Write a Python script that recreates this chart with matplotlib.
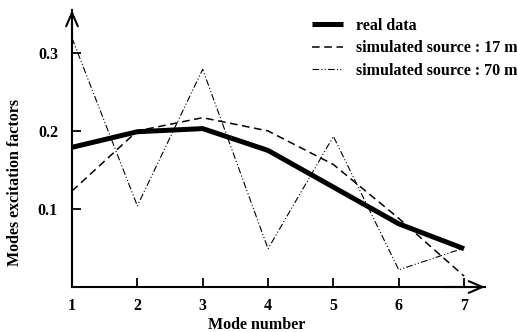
import matplotlib
matplotlib.use("Agg")
import matplotlib.pyplot as plt

modes = [1, 2, 3, 4, 5, 6, 7]
real_data = [0.179, 0.199, 0.203, 0.175, 0.128, 0.081, 0.049]
sim_17m = [0.123, 0.200, 0.217, 0.200, 0.157, 0.088, 0.014]
sim_70m = [0.319, 0.104, 0.279, 0.049, 0.193, 0.022, 0.050]
xticks = [1, 2, 3, 4, 5, 6, 7]
yticks = [0.1, 0.2, 0.3]
ytick_labels = ["0.1", "0.2", "0.3"]

plt.rcParams['font.family'] = ['Liberation Serif', 'DejaVu Serif']
plt.rcParams['font.weight'] = 'bold'

W, H = 517, 332
fig = plt.figure(figsize=(W / 100, H / 100), dpi=100)
x0, x1, y0, y1 = 72, 485, 287, 10
ax = fig.add_axes([x0 / W, (H - y0) / H, (x1 - x0) / W, (y0 - y1) / H])

ax.plot(modes, real_data, color='black', lw=3.6, solid_capstyle='butt', label='real data')
ax.plot(modes, sim_17m, color='black', lw=1.1, dashes=(5, 3), label='simulated source : 17 m')
ax.plot(modes, sim_70m, color='black', lw=0.8, dashes=(6, 2, 1, 2, 1, 2), label='simulated source : 70 m')

ax.set_xlim(1, 7.32)
ax.set_ylim(0, 0.355)
ax.set_xticks(xticks)
ax.set_yticks(yticks)
ax.set_yticklabels(ytick_labels)
ax.tick_params(direction='in', length=6.5, width=1.3, labelsize=11.5, pad=8)
ax.tick_params(axis='y', pad=10)
for s in ['top', 'right']:
    ax.spines[s].set_visible(False)
for s in ['left', 'bottom']:
    ax.spines[s].set_linewidth(1.5)

ax.annotate('', xy=(1.0, 0), xycoords='axes fraction', xytext=(0.9, 0),
            arrowprops=dict(arrowstyle='->,head_length=0.7,head_width=0.3', lw=1.5,
                            color='black', mutation_scale=14, shrinkA=0, shrinkB=0))
ax.annotate('', xy=(0, 1.0), xycoords='axes fraction', xytext=(0, 0.9),
            arrowprops=dict(arrowstyle='->,head_length=0.7,head_width=0.3', lw=1.5,
                            color='black', mutation_scale=14, shrinkA=0, shrinkB=0))

leg = ax.legend(loc='upper left', bbox_to_anchor=(312 / W, 1 - 18 / H),
                bbox_transform=fig.transFigure, frameon=False,
                handlelength=1.95, handletextpad=0.8, labelspacing=0.4,
                borderaxespad=0, borderpad=0, prop={'size': 11.5, 'weight': 'bold'})

fig.text(257 / W, 1 - 325 / H, 'Mode number', ha='center', va='center',
         fontsize=11.5, fontweight='bold')
fig.text(15 / W, 1 - 183 / H, 'Modes excitation factors', ha='center', va='center',
         rotation=90, fontsize=11.5, fontweight='bold')

fig.savefig('out.png', dpi=100)
